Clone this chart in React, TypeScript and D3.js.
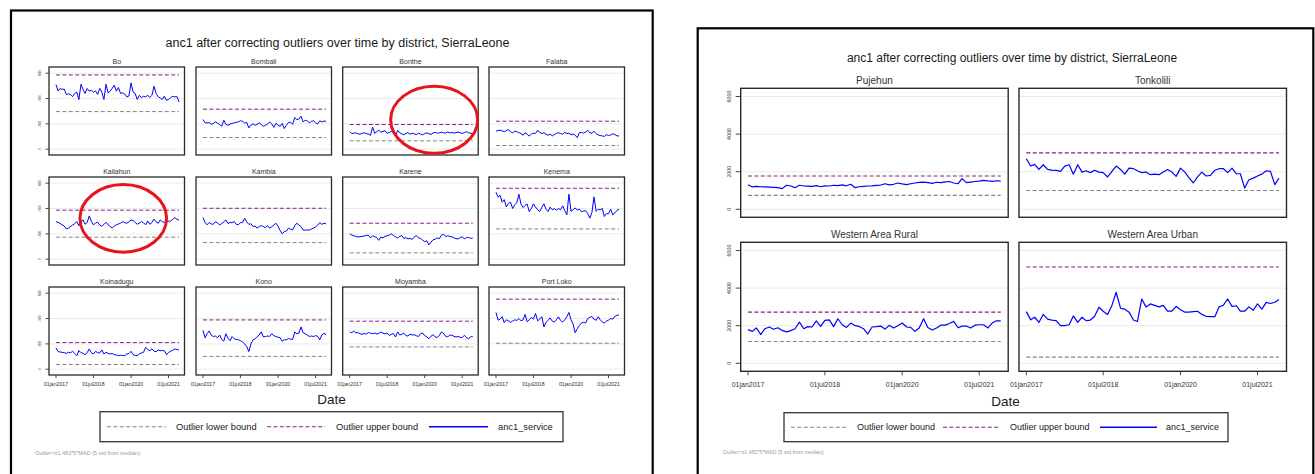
import React from 'react';
import * as d3 from 'd3';

// ---------- data ----------
const monthDates = d3.utcMonth.range(new Date(Date.UTC(2017, 0, 1)), new Date(Date.UTC(2022, 0, 1)));
const tickDates = [new Date(Date.UTC(2017, 0, 1)), new Date(Date.UTC(2018, 6, 1)), new Date(Date.UTC(2020, 0, 1)), new Date(Date.UTC(2021, 6, 1))];
const tickLabels = ['01jan2017', '01jul2018', '01jan2020', '01jul2021'];
const yTicks = [0, 2000, 4000, 6000];

const titleText = 'anc1 after correcting outliers over time by district, SierraLeone';
const noteText = 'Outlier>±1.482*5*MAD (5 std from median)';
const legendLabels = ['Outlier lower bound', 'Outlier upper bound', 'anc1_service'];

const leftDistricts = ['Bo', 'Bombali', 'Bonthe', 'Falaba', 'Kailahun', 'Kambia', 'Karene', 'Kenema', 'Koinadugu', 'Kono', 'Moyamba', 'Port Loko'];
const leftUpper = [5860, 3160, 1950, 2210, 3870, 4020, 2840, 5600, 2100, 3890, 3790, 5530];
const leftLower = [2970, 920, 660, 290, 1740, 1310, 500, 2390, 370, 1010, 1760, 2050];
// highlighted (circled) districts in the left figure
const circledDistricts = ['Bonthe', 'Kailahun'];

const bo = [5100, 4600, 4790, 4720, 4750, 4310, 4380, 4300, 4150, 4400, 4500, 3920, 5130, 4700, 4400, 4790, 4580, 4660, 4500, 4600, 4320, 4800, 4500, 3920, 5130, 4440, 4580, 4790, 5050, 4580, 4870, 4400, 4450, 4350, 4130, 4200, 5230, 4500, 4400, 3920, 4260, 4080, 4180, 4130, 4260, 4080, 4260, 4970, 4400, 4130, 4050, 3920, 4180, 3860, 3920, 4080, 4180, 4130, 4150, 3730];
const bombali = [2340, 2080, 2080, 2100, 1970, 2030, 2160, 2060, 1950, 1810, 2290, 1950, 1890, 1980, 2030, 2080, 2120, 2160, 2240, 2200, 2050, 2120, 1680, 1900, 2000, 1890, 1960, 2080, 1950, 1810, 1890, 1980, 2160, 2000, 1720, 2050, 1900, 1810, 2030, 1630, 1890, 2100, 2130, 1960, 2500, 2340, 2380, 2600, 2160, 2280, 2240, 2080, 2200, 2240, 2080, 2000, 2240, 2150, 2220, 2210];
const bonthe = [1370, 1240, 1260, 1300, 1210, 1180, 1260, 1290, 1230, 1200, 1100, 1740, 1260, 1380, 1500, 1340, 1400, 1460, 1250, 1320, 1400, 1340, 1000, 1500, 1290, 1210, 1140, 1240, 1310, 1180, 1260, 1210, 1150, 1270, 1200, 1130, 1240, 1290, 1220, 1160, 1280, 1330, 1260, 1300, 1340, 1290, 1280, 1360, 1290, 1320, 1270, 1310, 1350, 1290, 1240, 1320, 1380, 1300, 1260, 1240];
const falaba = [1420, 1480, 1500, 1450, 1380, 1470, 1550, 1380, 1300, 1420, 1380, 1310, 1240, 1100, 1300, 1180, 1030, 1200, 1260, 1240, 1500, 1320, 1240, 1300, 1180, 1100, 1200, 1050, 1150, 1240, 1300, 1240, 1180, 1330, 1240, 1270, 1130, 1200, 1100, 920, 1300, 1330, 1270, 1350, 1500, 1300, 1260, 1420, 1230, 1120, 1080, 1050, 1010, 1150, 1080, 1120, 1210, 1160, 1050, 1050];
const kailahun = [2970, 2900, 2840, 2700, 2630, 2390, 2450, 2580, 2700, 2800, 2970, 2630, 3000, 3100, 2760, 2900, 3420, 3000, 2710, 2850, 2920, 2700, 2600, 2750, 2920, 2710, 2600, 2450, 2620, 2710, 2780, 2840, 2970, 2880, 2840, 2950, 3100, 3050, 2900, 2760, 2850, 2970, 2880, 2710, 3020, 2760, 2900, 3160, 2950, 2840, 3100, 2960, 2900, 2970, 3000, 3020, 3150, 3290, 3150, 3080];
const kambia = [3290, 2900, 2710, 2900, 2780, 2760, 2950, 2870, 2700, 2820, 2950, 3100, 2820, 2900, 2870, 2980, 2750, 2720, 2880, 2900, 3230, 2950, 2750, 2800, 2580, 2620, 2450, 2580, 2650, 2580, 2500, 2650, 2450, 2560, 2700, 2840, 2600, 2260, 2000, 2180, 2220, 2450, 2370, 2310, 2640, 2840, 2700, 2580, 2310, 2290, 2310, 2300, 2380, 2450, 2550, 2680, 2890, 2750, 2840, 2800];
const karene = [2000, 1900, 1850, 1800, 1750, 1780, 1800, 1830, 1870, 1900, 1680, 1850, 1780, 1700, 1490, 1750, 1690, 1800, 1850, 1900, 2000, 1870, 1770, 1670, 1800, 1870, 1640, 1700, 1600, 1640, 1560, 1750, 1870, 1680, 1640, 1500, 1390, 1450, 1130, 1350, 1530, 1580, 1680, 1620, 1900, 1970, 1780, 1850, 1800, 1760, 1700, 1620, 1600, 1700, 1780, 1600, 1700, 1720, 1650, 1660];
const kenema = [5290, 4900, 5050, 4500, 4700, 4130, 4400, 4500, 4000, 4300, 4450, 5130, 4350, 4080, 4240, 4350, 3760, 4000, 4370, 4110, 3900, 3760, 4100, 4370, 3950, 3760, 4110, 3900, 4000, 3870, 4000, 3900, 4210, 3850, 3500, 5130, 3780, 3900, 4050, 3880, 3950, 3740, 3800, 3840, 3600, 3240, 3700, 4920, 3780, 3950, 3900, 4000, 3370, 3600, 3580, 3950, 3500, 3650, 3850, 3950];
const koinadugu = [1680, 1390, 1360, 1330, 1300, 1250, 1340, 1300, 1410, 1250, 1070, 1470, 1300, 1250, 1150, 1300, 1600, 1300, 1200, 1410, 1300, 1280, 1520, 1200, 1330, 1250, 1200, 1240, 1150, 1120, 1070, 1100, 1080, 1070, 1200, 1230, 1410, 1150, 1090, 1070, 1200, 1280, 1330, 1730, 1550, 1460, 1600, 1420, 1380, 1520, 1460, 1470, 1460, 1150, 1320, 1420, 1500, 1600, 1560, 1510];
const kono = [3070, 2480, 2800, 3020, 2700, 2580, 2620, 2480, 2700, 2350, 2210, 2800, 2450, 2250, 2580, 2400, 2350, 2320, 2250, 2150, 2000, 1800, 1390, 2000, 2320, 2400, 2560, 2700, 2940, 2550, 2580, 2620, 2590, 2800, 2650, 2580, 2520, 2480, 2210, 2330, 2320, 2420, 2370, 2350, 2940, 2800, 2850, 3340, 2880, 2800, 2700, 2590, 2620, 2580, 2650, 2600, 2320, 2700, 2830, 2750];
const moyamba = [2940, 2880, 3020, 2860, 2900, 2800, 2750, 2820, 2780, 2900, 2840, 2800, 2860, 2780, 2820, 2940, 2850, 2780, 2860, 2670, 2750, 2820, 2540, 2940, 2700, 2760, 2850, 2650, 2620, 2780, 2700, 2720, 2640, 2580, 2800, 2860, 2650, 2550, 2400, 2600, 2720, 2560, 2500, 2680, 2940, 2820, 2600, 2550, 2700, 2680, 2600, 2540, 2580, 2520, 2490, 2680, 2500, 2400, 2550, 2580];
const portLoko = [4480, 3870, 3950, 4140, 3680, 3900, 3820, 3700, 3800, 3900, 3850, 4000, 3820, 3900, 4320, 3750, 3900, 4100, 3950, 4400, 3820, 3950, 4150, 3340, 3700, 3870, 4050, 3800, 3720, 3900, 4140, 3850, 3720, 3900, 4140, 4480, 3900, 3550, 2880, 3200, 3450, 3650, 3700, 3650, 4000, 4100, 4160, 3950, 3860, 4140, 3900, 3730, 3650, 3800, 3870, 4000, 3950, 4170, 4250, 4290];
const leftSeries = [bo, bombali, bonthe, falaba, kailahun, kambia, karene, kenema, koinadugu, kono, moyamba, portLoko];

const rightDistricts = ['Pujehun', 'Tonkolili', 'Western Area Rural', 'Western Area Urban'];
const rightUpper = [1770, 3000, 2720, 5120];
const rightLower = [740, 1000, 1160, 330];
const pujehun = [1310, 1190, 1220, 1200, 1190, 1180, 1170, 1150, 1100, 1280, 1240, 1150, 1280, 1240, 1230, 1220, 1260, 1200, 1250, 1240, 1280, 1260, 1300, 1250, 1330, 1150, 1200, 1220, 1240, 1250, 1270, 1290, 1360, 1300, 1330, 1400, 1350, 1310, 1360, 1400, 1430, 1450, 1420, 1380, 1440, 1420, 1460, 1480, 1400, 1360, 1630, 1420, 1450, 1480, 1500, 1540, 1510, 1490, 1520, 1500];
const tonkolili = [2690, 2300, 2390, 2120, 2370, 2120, 2080, 2070, 2020, 2300, 2370, 1870, 2370, 1980, 2050, 1950, 2080, 1980, 1950, 1720, 2020, 2300, 2120, 1870, 2190, 2160, 2050, 1950, 1980, 1840, 1870, 1840, 1980, 2120, 1980, 1750, 2190, 1980, 1680, 1400, 1720, 1980, 1770, 1800, 2080, 2160, 2160, 1950, 2190, 1890, 1890, 1130, 1570, 1660, 1770, 1870, 2050, 2020, 1310, 1660];
const westernRural = [1790, 1700, 1880, 1530, 1840, 1930, 1810, 1890, 1750, 1670, 1740, 1840, 2190, 1840, 1950, 1930, 2260, 1960, 2280, 2310, 1950, 2370, 2050, 1910, 2140, 2000, 1960, 1840, 1560, 1930, 1950, 1980, 1820, 2020, 1880, 2000, 2140, 1930, 1910, 1700, 1880, 2370, 1910, 1770, 1880, 2030, 2030, 2120, 2230, 1890, 1980, 1980, 1880, 2030, 2050, 2050, 1880, 2140, 2260, 2260];
const westernUrban = [2750, 2310, 2450, 2180, 2600, 2350, 2300, 2270, 2000, 2000, 2050, 2520, 2180, 2450, 2270, 2300, 2500, 2980, 2770, 2600, 3080, 3780, 2930, 2880, 2720, 2300, 2220, 3420, 3000, 3160, 3080, 3000, 3080, 2770, 2770, 3030, 2850, 2720, 2720, 2750, 2770, 2600, 2500, 2480, 2480, 3000, 3090, 3420, 3030, 3060, 2770, 2770, 3000, 2820, 3160, 2880, 3240, 3180, 3250, 3400];
const rightSeries = [pujehun, tonkolili, westernRural, westernUrban];

// ---------- styles ----------
const FONT = "'Liberation Sans', Arial, Helvetica, sans-serif";
const LINE_BLUE = '#0000ff';
const UPPER_COL = '#8a1a8a';
const LOWER_COL = '#858585';
const GRID_COL = '#ebebeb';
const CIRCLE_COL = '#e8141b';

type Cfg = {
  frame: [number, number, number, number];
  titleX: number; titleY: number; titleSize: number;
  cols: number; colX: number[]; rowY: number[]; w: number; h: number;
  yBottom: number; yTop: number;
  dayStart: number; dayEnd: number;
  subSize: number; subDy: number;
  yLabX: number; yLabSize: number; yTickLen: number;
  xLabY: number; xLabSize: number; xTickLen: number;
  dateX: number; dateY: number; dateSize: number;
  legend: [number, number, number, number];
  legItems: number[][]; legTextX: number[]; legSize: number;
  noteX: number; noteY: number; noteSize: number;
  lineW: number; boundW: number; dash: string; boxW: number;
  circles: { name: string; fx: number; fy: number; rx: number; ry: number }[];
};

const leftCfg: Cfg = {
  frame: [11, 10.5, 641.7, 480],
  titleX: 337.5, titleY: 42.7, titleSize: 12.5,
  cols: 4, colX: [49, 196, 342.7, 489], rowY: [67, 177, 287], w: 135.5, h: 88,
  yBottom: 82.2, yTop: 6.2,
  dayStart: -102, dayEnd: 1875,
  subSize: 7, subDy: 6,
  yLabX: 40.3, yLabSize: 2.6, yTickLen: 3.5,
  xLabY: 384.2, xLabSize: 5.2, xTickLen: 3,
  dateX: 331.5, dateY: 399.5, dateSize: 13.5,
  legend: [100, 411.7, 463, 30],
  legItems: [[107, 166], [267, 325], [429, 488]], legTextX: [176, 336, 498], legSize: 9.3,
  noteX: 35, noteY: 452.7, noteSize: 5.5,
  lineW: 1, boundW: 1, dash: '4,2.4', boxW: 1.3,
  // circle centre given as fraction of panel width / height
  circles: [
    { name: circledDistricts[0], fx: 0.675, fy: 0.6, rx: 43.5, ry: 33.5 },
    { name: circledDistricts[1], fx: 0.548, fy: 0.47, rx: 43.3, ry: 33.8 },
  ],
};

const rightCfg: Cfg = {
  frame: [697.7, 28.3, 615.6, 470],
  titleX: 1012, titleY: 57.7, titleSize: 12,
  cols: 2, colX: [740.7, 1019], rowY: [88.3, 242.3], w: 267.5, h: 129,
  yBottom: 121, yTop: 8.2,
  dayStart: -52, dayEnd: 1848,
  subSize: 10, subDy: 8,
  yLabX: 729.3, yLabSize: 5.3, yTickLen: 5,
  xLabY: 384.3, xLabSize: 7, xTickLen: 4,
  dateX: 1005.5, dateY: 401.5, dateSize: 13.5,
  legend: [784, 412.7, 444, 29],
  legItems: [[791, 847], [943, 1000], [1100, 1157]], legTextX: [857, 1010, 1166], legSize: 9,
  noteX: 722.7, noteY: 452.3, noteSize: 5.3,
  lineW: 1.2, boundW: 1.1, dash: '4,2.4', boxW: 1.4,
  circles: [],
};

const DAY = 86400000;
const T0 = Date.UTC(2017, 0, 1);

function Figure({ cfg, names, upper, lower, series }: { cfg: Cfg; names: string[]; upper: number[]; lower: number[]; series: number[][] }) {
  const nRows = cfg.rowY.length;
  const [fx, fy, fw, fh] = cfg.frame;
  const [lx, ly, lw, lh] = cfg.legend;
  const legCy = ly + lh / 2;
  const legStyles = [
    { stroke: LOWER_COL, dash: cfg.dash },
    { stroke: UPPER_COL, dash: cfg.dash },
    { stroke: LINE_BLUE, dash: undefined as string | undefined },
  ];
  const panelPos = (i: number) => ({ left: cfg.colX[i % cfg.cols], top: cfg.rowY[Math.floor(i / cfg.cols)] });
  return (
    <g fontFamily={FONT}>
      <rect x={fx} y={fy} width={fw} height={fh} fill="#fff" stroke="#000" strokeWidth={2.2} />
      <text x={cfg.titleX} y={cfg.titleY} fontSize={cfg.titleSize} textAnchor="middle" dominantBaseline="central" fill="#1a1a1a">{titleText}</text>
      {names.map((name, i) => {
        const col = i % cfg.cols;
        const row = Math.floor(i / cfg.cols);
        const { left, top } = panelPos(i);
        const x = d3.scaleUtc()
          .domain([new Date(T0 + cfg.dayStart * DAY), new Date(T0 + cfg.dayEnd * DAY)])
          .range([left, left + cfg.w]);
        const y = d3.scaleLinear().domain([0, 6000]).range([top + cfg.yBottom, top + cfg.yTop]);
        const line = d3.line<number>().x((_, j) => x(monthDates[j])).y((d) => y(d));
        const x1 = x(monthDates[0]);
        const x2 = x(monthDates[monthDates.length - 1]);
        const bottom = top + cfg.h;
        return (
          <g key={name}>
            <text x={left + cfg.w / 2} y={top - cfg.subDy} fontSize={cfg.subSize} textAnchor="middle" dominantBaseline="central" fill="#333">{name}</text>
            {yTicks.map((t) => (
              <line key={t} x1={left} x2={left + cfg.w} y1={y(t)} y2={y(t)} stroke={GRID_COL} strokeWidth={1} />
            ))}
            <line x1={x1} x2={x2} y1={y(lower[i])} y2={y(lower[i])} stroke={LOWER_COL} strokeWidth={cfg.boundW} strokeDasharray={cfg.dash} />
            <line x1={x1} x2={x2} y1={y(upper[i])} y2={y(upper[i])} stroke={UPPER_COL} strokeWidth={cfg.boundW} strokeDasharray={cfg.dash} />
            <path d={line(series[i]) || ''} fill="none" stroke={LINE_BLUE} strokeWidth={cfg.lineW} strokeLinejoin="round" />
            <rect x={left} y={top} width={cfg.w} height={cfg.h} fill="none" stroke="#2a2a2a" strokeWidth={cfg.boxW} />
            {col === 0 && yTicks.map((t) => (
              <g key={'yt' + t}>
                <line x1={left - cfg.yTickLen} x2={left} y1={y(t)} y2={y(t)} stroke="#333" strokeWidth={0.9} />
                <text transform={`translate(${cfg.yLabX},${y(t)}) rotate(-90)`} fontSize={cfg.yLabSize} textAnchor="middle" dominantBaseline="central" fill="#444">{t}</text>
              </g>
            ))}
            {row === nRows - 1 && tickDates.map((d, k) => (
              <g key={'xt' + k}>
                <line x1={x(d)} x2={x(d)} y1={bottom} y2={bottom + cfg.xTickLen} stroke="#333" strokeWidth={0.9} />
                <text x={x(d)} y={cfg.xLabY} fontSize={cfg.xLabSize} textAnchor="middle" dominantBaseline="central" fill="#333">{tickLabels[k]}</text>
              </g>
            ))}
          </g>
        );
      })}
      {cfg.circles.map((c) => {
        const i = names.indexOf(c.name);
        const { left, top } = panelPos(i);
        return (
          <ellipse key={'c' + c.name} cx={left + c.fx * cfg.w} cy={top + c.fy * cfg.h} rx={c.rx} ry={c.ry} fill="none" stroke={CIRCLE_COL} strokeWidth={3} />
        );
      })}
      <text x={cfg.dateX} y={cfg.dateY} fontSize={cfg.dateSize} textAnchor="middle" dominantBaseline="central" fill="#1a1a1a">Date</text>
      <rect x={lx} y={ly} width={lw} height={lh} fill="#fff" stroke="#333" strokeWidth={1.3} />
      {legendLabels.map((lab, k) => (
        <g key={lab}>
          <line x1={cfg.legItems[k][0]} x2={cfg.legItems[k][1]} y1={legCy} y2={legCy} stroke={legStyles[k].stroke} strokeWidth={k === 2 ? 1.4 : 1.1} strokeDasharray={legStyles[k].dash} />
          <text x={cfg.legTextX[k]} y={legCy} fontSize={cfg.legSize} dominantBaseline="central" fill="#1a1a1a">{lab}</text>
        </g>
      ))}
      <text x={cfg.noteX} y={cfg.noteY} fontSize={cfg.noteSize} dominantBaseline="central" fill="#9a9a9a">{noteText}</text>
    </g>
  );
}

export default function App() {
  return (
    <svg width={1315} height={474} viewBox="0 0 1315 474" style={{ position: 'absolute', left: 0, top: 0, display: 'block', background: '#fff' }}>
      <rect x={0} y={0} width={1315} height={474} fill="#fff" />
      <Figure cfg={leftCfg} names={leftDistricts} upper={leftUpper} lower={leftLower} series={leftSeries} />
      <Figure cfg={rightCfg} names={rightDistricts} upper={rightUpper} lower={rightLower} series={rightSeries} />
    </svg>
  );
}
